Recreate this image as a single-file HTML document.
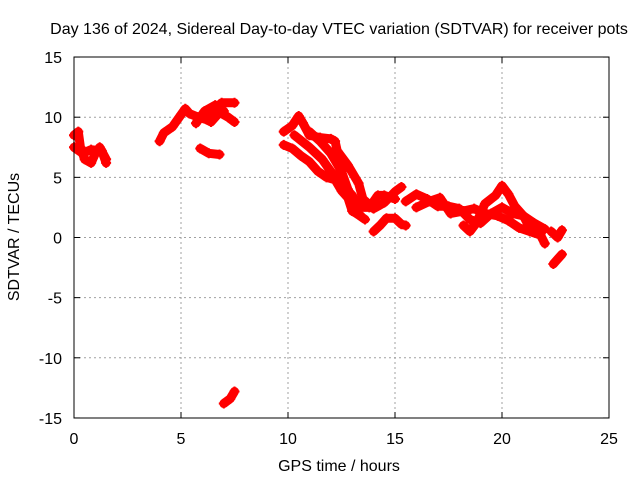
<!DOCTYPE html>
<html><head><meta charset="utf-8"><style>
body{margin:0;background:#fff}
svg{display:block;font-family:"Liberation Sans",sans-serif}
</style></head><body>
<svg width="640" height="480" viewBox="0 0 640 480">
<rect width="640" height="480" fill="#fff"/>
<text x="339" y="34" font-size="16" text-anchor="middle">Day 136 of 2024, Sidereal Day-to-day VTEC variation (SDTVAR) for receiver pots</text>
<g id="grid"></g>
<g id="ticks"></g>
<g id="series"></g>
<rect x="74" y="57" width="535" height="361" fill="none" stroke="#000" stroke-width="1"/>
<text x="339" y="471" font-size="16" text-anchor="middle">GPS time / hours</text>
<text transform="translate(19,237) rotate(-90)" font-size="16" text-anchor="middle">SDTVAR / TECUs</text>
<script>
const xTicks=[0,5,10,15,20,25];
const yTicks=[-15,-10,-5,0,5,10,15];
const trackHours=[
[0,0.2,0.3,0.5,0.8,1.0,1.2,1.5],
[0,0.4,0.8,1.3,1.5],
[4.0,4.2,4.6,5.0,5.2,5.4,5.8,6.2,6.5,6.9,7.5],
[6.0,6.4,6.8,7.2,7.5],
[5.7,6.1,6.6,7.0],
[5.9,6.3,6.8],
[7.0,7.3,7.5],
[9.8,10.2,10.5,10.7,11.0,11.5,12.0,12.2,12.3,12.8,13.3,13.5,14.0,14.5,15.0,15.3],
[9.8,10.2,10.6,11.0,11.4,11.8,12.2,12.5,12.8,13.0,13.4],
[14.0,14.3,14.6,15.0,15.3,15.5],
[10.3,11.0,11.6,12.0,12.5,13.0,13.3,13.8,14.2,14.5,15.0],
[11.0,11.5,12.0,12.5,12.8,13.2,13.6],
[15.5,16,16.5,17,17.5,18,18.5,19,19.5,20,20.5,21,21.5,22],
[18.2,18.5,18.8,19.2,19.7,20,20.3,20.6,21,21.3,21.6],
[16,16.6,17.1,17.6,18.2,18.7,19.2,19.8,20.3,20.8,21.3,21.8,22.0],
[22.3,22.6,22.8],
[22.4,22.6,22.8]
];
const trackValues=[
[8.5,8.8,7.5,6.5,6.2,7,7.5,6.5],
[7.5,7,7.3,7.2,6.2],
[8,8.7,9.2,10.2,10.7,10.3,10,9.8,10.5,11.2,11.2],
[10,9.6,10.4,10,9.6],
[9.5,10.5,11.0,10.5],
[7.4,7.0,6.9],
[-13.8,-13.4,-12.8],
[8.8,9.3,10.1,9.5,8.5,8.3,8.2,8.0,7.2,6,4.5,3.2,2.4,2.9,3.8,4.2],
[7.7,7.4,6.8,6.3,5.5,5.0,4.8,3.9,3.3,2.2,1.8],
[0.5,1.0,1.6,1.6,1.1,1.0],
[8.5,7.5,6.5,5.5,4.5,3.5,2.5,2.5,3.5,3.5,3.2],
[8.8,8,7,5.5,4,2,1.5],
[3.0,3.6,3.2,2.6,2.6,2.4,1.5,1.2,2.0,2.5,2.0,1.8,1.2,0.7],
[1.0,0.5,1.2,2.8,3.5,4.3,3.6,2.6,1.8,0.8,0.4],
[2.5,3.0,3.3,2.0,2.2,2.4,2.0,1.8,1.4,0.8,0.5,0.2,-0.5],
[0.5,0,0.6],
[-2.2,-1.8,-1.4]
];
const NS="http://www.w3.org/2000/svg";
const X=h=>74+h/25*535;
const Y=v=>237.5-v*12.03;
const grid=document.getElementById('grid'),ticks=document.getElementById('ticks'),ser=document.getElementById('series');
function mk(tag,attrs,parent){const e=document.createElementNS(NS,tag);for(const k in attrs)e.setAttribute(k,attrs[k]);parent.appendChild(e);return e;}
xTicks.forEach(t=>{
  const x=X(t);
  if(t>0&&t<25){const g=mk('line',{x1:x,x2:x,y1:57,y2:418,stroke:'#a0a0a0','stroke-dasharray':'2,3'},grid);
  
  }
  mk('line',{x1:x,x2:x,y1:418,y2:412,stroke:'#000'},ticks);
  mk('line',{x1:x,x2:x,y1:57,y2:63,stroke:'#000'},ticks);
  const l=mk('text',{x:x,y:444,'font-size':16,'text-anchor':'middle'},ticks);l.textContent=t;
  
  
});
yTicks.forEach(t=>{
  const y=Y(t);
  if(t>-15&&t<15){const g=mk('line',{x1:74,x2:609,y1:y,y2:y,stroke:'#a0a0a0','stroke-dasharray':'2,3'},grid);
  
  }
  mk('line',{x1:74,x2:80,y1:y,y2:y,stroke:'#000'},ticks);
  mk('line',{x1:609,x2:603,y1:y,y2:y,stroke:'#000'},ticks);
  const l=mk('text',{x:62,y:y+6,'font-size':16,'text-anchor':'end'},ticks);l.textContent=t;
  
  
});
trackHours.forEach((hs,i)=>{
  const vs=trackValues[i];
  const pts=hs.map((h,j)=>X(h)+','+Y(vs[j])).join(' ');
  const p=mk('polyline',{points:pts,fill:'none',stroke:'#ff0000','stroke-width':9,'stroke-linejoin':'round','stroke-linecap':'round'},ser);
  
  
  hs.forEach((h,j)=>{
    const x=X(h),y=Y(vs[j]);
    const m=mk('path',{d:`M${x-5},${y}H${x+5}M${x},${y-5}V${y+5}`,stroke:'#ff0000','stroke-width':2},ser);
    
    
  });
});
</script>
</svg>
</body></html>
